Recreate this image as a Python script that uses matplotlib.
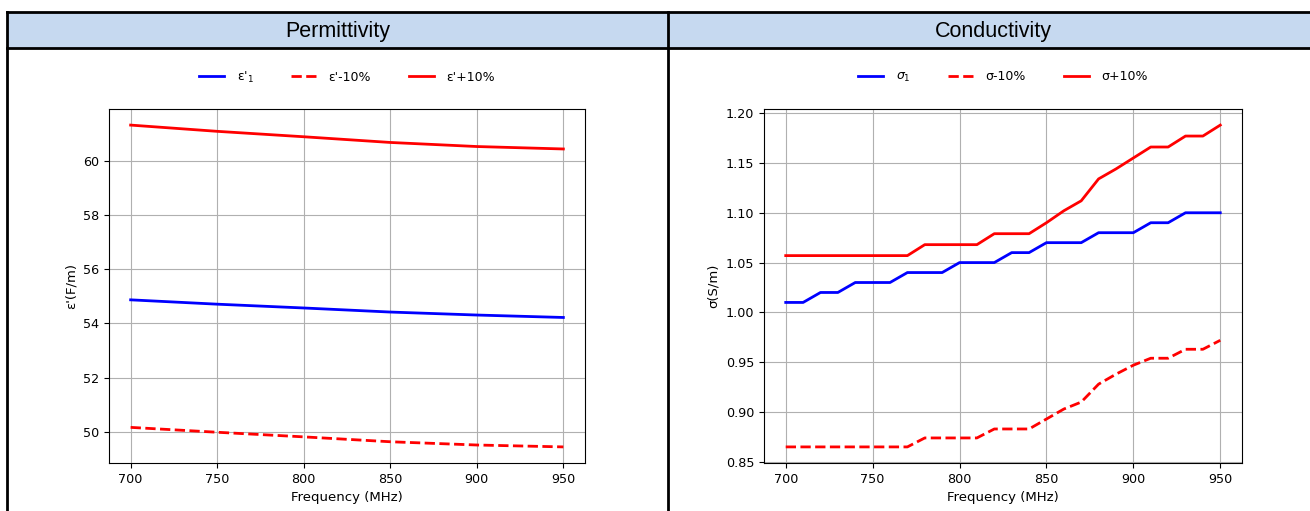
import matplotlib
matplotlib.use("Agg")
import matplotlib.pyplot as plt
from matplotlib.patches import Rectangle
from matplotlib.lines import Line2D

# permittivity, read at 50 MHz steps
freq_eps = [700, 750, 800, 850, 900, 950]
eps_1 = [54.87, 54.71, 54.57, 54.42, 54.31, 54.22]
eps_minus = [50.17, 49.99, 49.82, 49.64, 49.52, 49.45]
eps_plus = [61.31, 61.08, 60.88, 60.67, 60.52, 60.43]

# conductivity, 10 MHz steps
freq_sig = list(range(700, 951, 10))
sig_1 = [1.01, 1.01, 1.02, 1.02, 1.03, 1.03, 1.03, 1.04, 1.04, 1.04, 1.05, 1.05, 1.05,
         1.06, 1.06, 1.07, 1.07, 1.07, 1.08, 1.08, 1.08, 1.09, 1.09, 1.10, 1.10, 1.10]
sig_minus = [0.865, 0.865, 0.865, 0.865, 0.865, 0.865, 0.865, 0.865, 0.874, 0.874, 0.874, 0.874,
             0.883, 0.883, 0.883, 0.893, 0.903, 0.910, 0.928, 0.938, 0.947, 0.954, 0.954,
             0.963, 0.963, 0.972]
sig_plus = [1.057, 1.057, 1.057, 1.057, 1.057, 1.057, 1.057, 1.057, 1.068, 1.068, 1.068, 1.068,
            1.079, 1.079, 1.079, 1.090, 1.102, 1.112, 1.134, 1.144, 1.155, 1.166, 1.166,
            1.177, 1.177, 1.188]

W, H = 1310, 511
fig = plt.figure(figsize=(W / 100, H / 100), dpi=100)

def fx(px):
    return px / W

def fy(py):
    return 1 - py / H

# table header band and borders
fig.patches.append(Rectangle((fx(7), fy(48)), fx(1310 - 7), fy(12) - fy(48),
                             transform=fig.transFigure, facecolor="#c6d9f0",
                             edgecolor="none", zorder=0))
for y in (12, 48):
    fig.add_artist(Line2D([fx(7), 1], [fy(y), fy(y)], color="black", lw=2))
for x in (7, 668):
    fig.add_artist(Line2D([fx(x), fx(x)], [fy(12), 0], color="black", lw=2))

fig.text(fx(338), fy(31), "Permittivity", ha="center", va="center",
         fontsize=15.5, family="Liberation Sans")
fig.text(fx(993), fy(31), "Conductivity", ha="center", va="center",
         fontsize=15.5, family="Liberation Sans")

ax1 = fig.add_axes([fx(109), fy(463), fx(585 - 109), fy(109) - fy(463)])
ax2 = fig.add_axes([fx(764), fy(463), fx(1242 - 764), fy(109) - fy(463)])

ax1.plot(freq_eps, eps_1, color="blue", lw=2, label="ε'$_1$")
ax1.plot(freq_eps, eps_minus, "--", color="red", lw=2, label="ε'-10%")
ax1.plot(freq_eps, eps_plus, color="red", lw=2, label="ε'+10%")
ax1.set_ylabel("ε'(F/m)", fontsize=9.5)
ax1.set_yticks([50, 52, 54, 56, 58, 60])

ax2.plot(freq_sig, sig_1, color="blue", lw=2, label=r"$\sigma_1$")
ax2.plot(freq_sig, sig_minus, "--", color="red", lw=2, label="σ-10%")
ax2.plot(freq_sig, sig_plus, color="red", lw=2, label="σ+10%")
ax2.set_ylabel("σ(S/m)", fontsize=9.5)
ax2.set_yticks([0.85, 0.90, 0.95, 1.00, 1.05, 1.10, 1.15, 1.20])
ax2.yaxis.set_major_formatter(matplotlib.ticker.FormatStrFormatter("%.2f"))

for ax in (ax1, ax2):
    ax.set_xticks([700, 750, 800, 850, 900, 950])
    ax.set_xlabel("Frequency (MHz)", fontsize=9.5)
    ax.tick_params(labelsize=9.2)
    ax.grid(True, color="#b0b0b0", lw=0.8)
    ax.legend(loc="center", bbox_to_anchor=(0.5, 1.09), ncol=3, frameon=False,
              fontsize=9, handlelength=2.0, handletextpad=1.0, columnspacing=3.0)

fig.savefig("out.png", dpi=100)
